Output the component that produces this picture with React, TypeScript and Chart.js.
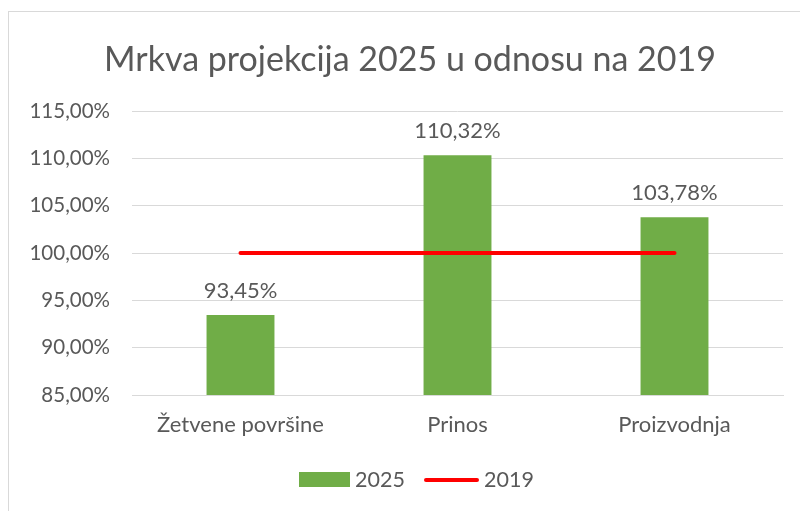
import React, { useEffect, useRef } from "react";
import { Chart, registerables } from "chart.js";

Chart.register(...registerables);

const categories = ["Žetvene površine", "Prinos", "Proizvodnja"];
const values2025 = [93.45, 110.32, 103.78];
const values2019 = [100, 100, 100];
const seriesNames = ["2025", "2019"];
const titleText = "Mrkva projekcija 2025 u odnosu na 2019";
const yMin = 85;
const yMax = 115;
const yStep = 5;

const FONT = "Lato, 'Open Sans', sans-serif";
const TEXT = "#595959";
const GREEN = "#70AD47";
const RED = "#FF0000";

const fmt = (v: number) => v.toFixed(2).replace(".", ",") + "%";

const decorPlugin = {
  id: "decor",
  beforeDraw(chart: any) {
    const ctx = chart.ctx;
    ctx.save();
    ctx.fillStyle = "#ffffff";
    ctx.fillRect(0, 0, chart.width, chart.height);
    ctx.strokeStyle = "#D9D9D9";
    ctx.lineWidth = 1;
    ctx.strokeRect(8.5, 11.5, chart.width + 10, chart.height + 10);
    ctx.restore();
  },
  afterDraw(chart: any) {
    const ctx = chart.ctx;
    ctx.save();
    // title
    ctx.fillStyle = TEXT;
    ctx.font = `34px ${FONT}`;
    ctx.textAlign = "center";
    ctx.textBaseline = "middle";
    ctx.fillText(titleText, 410, 60);

    // data labels
    const meta = chart.getDatasetMeta(0);
    ctx.font = `22px ${FONT}`;
    meta.data.forEach((bar: any, i: number) => {
      ctx.fillText(fmt(values2025[i]), bar.x, bar.y - 24);
    });

    // legend
    ctx.font = `21.5px ${FONT}`;
    ctx.textAlign = "left";
    ctx.fillStyle = GREEN;
    ctx.fillRect(299, 472, 51, 15);
    ctx.fillStyle = TEXT;
    ctx.fillText(seriesNames[0], 355, 480);
    ctx.strokeStyle = RED;
    ctx.lineWidth = 4;
    ctx.lineCap = "round";
    ctx.beginPath();
    ctx.moveTo(426, 480);
    ctx.lineTo(477, 480);
    ctx.stroke();
    ctx.fillText(seriesNames[1], 484, 480);
    ctx.restore();
  },
};

export default function App() {
  const ref = useRef<HTMLCanvasElement | null>(null);
  useEffect(() => {
    if (!ref.current) return;
    const chart = new Chart(ref.current, {
      type: "bar",
      data: {
        labels: categories,
        datasets: [
          {
            type: "bar",
            label: seriesNames[0],
            data: values2025,
            backgroundColor: GREEN,
            categoryPercentage: 1,
            barPercentage: 0.313,
            order: 2,
          },
          {
            type: "line",
            label: seriesNames[1],
            data: values2019,
            borderColor: RED,
            backgroundColor: RED,
            borderWidth: 4,
            borderCapStyle: "round",
            pointRadius: 0,
            order: 1,
          } as any,
        ],
      },
      options: {
        animation: false,
        responsive: false,
        devicePixelRatio: 1,
        layout: { padding: { left: 0, right: 17, top: 111, bottom: 71 } },
        plugins: {
          legend: { display: false },
          title: { display: false },
          tooltip: { enabled: false },
        },
        scales: {
          x: {
            grid: { display: false },
            border: { display: true, color: "#D9D9D9" },
            ticks: {
              color: TEXT,
              font: { family: FONT, size: 22 },
              padding: 9,
              maxRotation: 0,
            },
            afterFit: (s: any) => {
              s.height = 45;
            },
          },
          y: {
            min: yMin,
            max: yMax,
            grid: { color: "#D9D9D9", drawTicks: false },
            border: { display: false },
            ticks: {
              stepSize: yStep,
              color: TEXT,
              font: { family: FONT, size: 20.5 },
              padding: 22,
              callback: (v: any) => fmt(Number(v)),
            },
            afterFit: (s: any) => {
              s.width = 132;
            },
          },
        },
      },
      plugins: [decorPlugin],
    });
    return () => chart.destroy();
  }, []);
  return (
    <div style={{ position: "fixed", left: 0, top: 0, width: 800, height: 511 }}>
      <canvas ref={ref} width={800} height={511} style={{ width: 800, height: 511 }} />
    </div>
  );
}
